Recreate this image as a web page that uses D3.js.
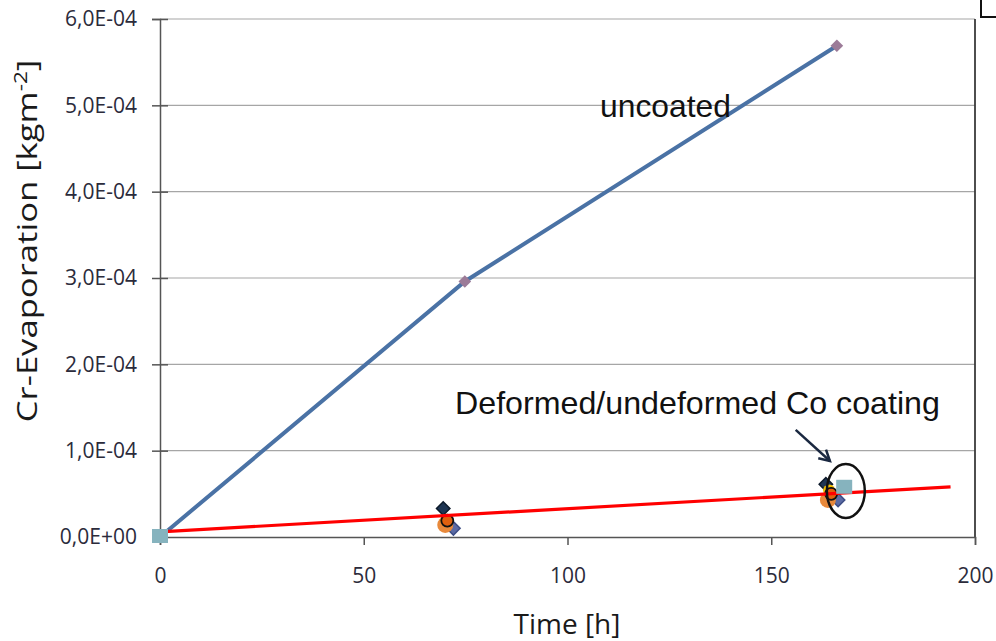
<!DOCTYPE html>
<html><head><meta charset="utf-8">
<script src="https://cdn.jsdelivr.net/npm/d3@7"></script>
<style>body{margin:0;background:#fff}svg{display:block}</style>
</head><body>
<svg id="c" width="996" height="641"></svg>
<script>
const xTicks = [0, 50, 100, 150, 200];
const yTicks = [0, 1e-4, 2e-4, 3e-4, 4e-4, 5e-4, 6e-4];
const yTickLabels = ["0,0E+00","1,0E-04","2,0E-04","3,0E-04","4,0E-04","5,0E-04","6,0E-04"];
const uncoated = [[0,0],[74.8,2.96e-4],[166.1,5.69e-4]];
const trend = [[0,6e-6],[194,5.8e-5]];
const coatA = [[69.5,3.3e-5],[163.4,6.1e-5]];   // navy diamonds
const coatB = [[72,1.0e-5],[166.4,4.3e-5]];     // blue-grey diamonds
const coatC = [[70,1.4e-5],[163.9,4.3e-5]];     // light orange circles
const coatE = [[70.3,2.0e-5],[164.2,5.4e-5]];   // yellow circles
const coatD = [[70.5,1.9e-5],[164.7,5.0e-5]];   // red-orange circles
const coatF = [[0,0],[167.9,5.7e-5]];           // teal squares

const svg = d3.select("#c");
const x = d3.scaleLinear().domain([0,200]).range([160,975]);
const y = d3.scaleLinear().domain([0,6e-4]).range([537,19]);
const tickFont = "'Open Sans', Lato, sans-serif";

// gridlines
svg.append("g").selectAll("line").data(yTicks.slice(1)).join("line")
  .attr("x1",x(0)).attr("x2",x(200)).attr("y1",d=>y(d)).attr("y2",d=>y(d))
  .attr("stroke","#a6a6a6").attr("stroke-width",1.2);

// right border
svg.append("line").attr("x1",x(200)).attr("x2",x(200)).attr("y1",y(6e-4)).attr("y2",y(0))
  .attr("stroke","#3a3a3a").attr("stroke-width",1.8);

// y axis
const ya = svg.append("g").attr("transform",`translate(${x(0)},0)`)
  .call(d3.axisLeft(y).tickValues(yTicks).tickSize(8).tickPadding(15).tickFormat((d,i)=>yTickLabels[i]));
ya.select(".domain").attr("stroke","#555").attr("stroke-width",1.5);
ya.selectAll(".tick line").attr("stroke","#555").attr("stroke-width",1.5).attr("x2",8).attr("x1",-8);
ya.selectAll(".tick text").attr("font-family",tickFont).attr("font-size",21).attr("fill","#2b2b3b");

// x axis
const xa = svg.append("g").attr("transform",`translate(0,${y(0)})`)
  .call(d3.axisBottom(x).tickValues(xTicks).tickSize(8).tickPadding(23).tickFormat(d3.format("d")));
xa.select(".domain").attr("stroke","#555").attr("stroke-width",1.5);
xa.selectAll(".tick line").attr("stroke","#555").attr("stroke-width",1.5);
xa.selectAll(".tick text").attr("font-family",tickFont).attr("font-size",21).attr("fill","#2b2b3b");

// axis titles
svg.append("text").attr("transform",`translate(37,${241}) rotate(-90) scale(1.26,1)`).attr("text-anchor","middle")
  .attr("font-family",tickFont).attr("font-size",27.5).attr("fill","#1a1a1a")
  .html('Cr-Evaporation [kgm<tspan dy="-10" font-size="18">-2</tspan><tspan dy="10">]</tspan>');
svg.append("text").attr("x",567).attr("y",634).attr("text-anchor","middle")
  .attr("font-family",tickFont).attr("font-size",28).attr("fill","#1a1a1a").text("Time [h]");

// legend corner (cut off)
svg.append("path").attr("d","M981,0 V17 H996").attr("fill","none").attr("stroke","#111").attr("stroke-width",2);

const line = d3.line().x(d=>x(d[0])).y(d=>y(d[1]));
// uncoated line
svg.append("path").datum(uncoated).attr("d",line).attr("fill","none")
  .attr("stroke","#4a72a5").attr("stroke-width",4);

// markers
function diamonds(data, fill, stroke, sz){
  svg.append("g").selectAll("path").data(data).join("path")
    .attr("d", d3.symbol().type(d3.symbolSquare).size(sz)())
    .attr("transform",d=>`translate(${x(d[0])},${y(d[1])}) rotate(45)`)
    .attr("fill",fill).attr("stroke",stroke||"none").attr("stroke-width",1.5);
}
function circles(data, fill, r, stroke){
  svg.append("g").selectAll("circle").data(data).join("circle")
    .attr("cx",d=>x(d[0])).attr("cy",d=>y(d[1])).attr("r",r)
    .attr("fill",fill).attr("stroke",stroke||"none").attr("stroke-width",1.8);
}
diamonds(coatB, "#5b6ba5", "#3d4d85", 90);
circles(coatC, "#e8893b", 8);
diamonds(coatA, "#1e3553", "#0d1a2b", 90);
circles(coatE, "#f5c000", 6);
circles(coatD, "#e0600f", 6, "#111");
diamonds(uncoated.slice(1), "#9c7b98", null, 80);

// trend line
svg.append("path").datum(trend).attr("d",line).attr("fill","none")
  .attr("stroke","#ff0000").attr("stroke-width",3.2);

// teal squares
svg.append("g").selectAll("rect").data(coatF).join("rect")
  .attr("x",d=>x(d[0])-8).attr("y",d=>y(d[1])-8).attr("width",16).attr("height",14)
  .attr("fill","#86b3be");

// annotations
svg.append("text").attr("x",x(108)).attr("y",y(4.87e-4)).attr("font-family","'Liberation Sans', Arial, sans-serif")
  .attr("font-size",31.8).attr("fill","#111").text("uncoated");
svg.append("text").attr("x",x(72.4)).attr("y",y(1.43e-4)).attr("font-family","'Liberation Sans', Arial, sans-serif")
  .attr("font-size",32.2).attr("fill","#111").text("Deformed/undeformed Co coating");

// ellipse
svg.append("ellipse").attr("cx",x(168.3)).attr("cy",y(5.33e-5)).attr("rx",19).attr("ry",27)
  .attr("fill","none").attr("stroke","#111").attr("stroke-width",2.5);

// arrow
const a0=[x(156),y(1.24e-4)], a1=[x(164.4),y(0.88e-4)];
svg.append("line").attr("x1",a0[0]).attr("y1",a0[1]).attr("x2",a1[0]).attr("y2",a1[1])
  .attr("stroke","#1a2840").attr("stroke-width",2.5);
const ang=Math.atan2(a1[1]-a0[1],a1[0]-a0[0]);
const hl=12, sp=0.5;
svg.append("path").attr("d",`M${a1[0]-hl*Math.cos(ang-sp)},${a1[1]-hl*Math.sin(ang-sp)} L${a1[0]},${a1[1]} L${a1[0]-hl*Math.cos(ang+sp)},${a1[1]-hl*Math.sin(ang+sp)}`)
  .attr("fill","none").attr("stroke","#1a2840").attr("stroke-width",2.5);
</script>
</body></html>
